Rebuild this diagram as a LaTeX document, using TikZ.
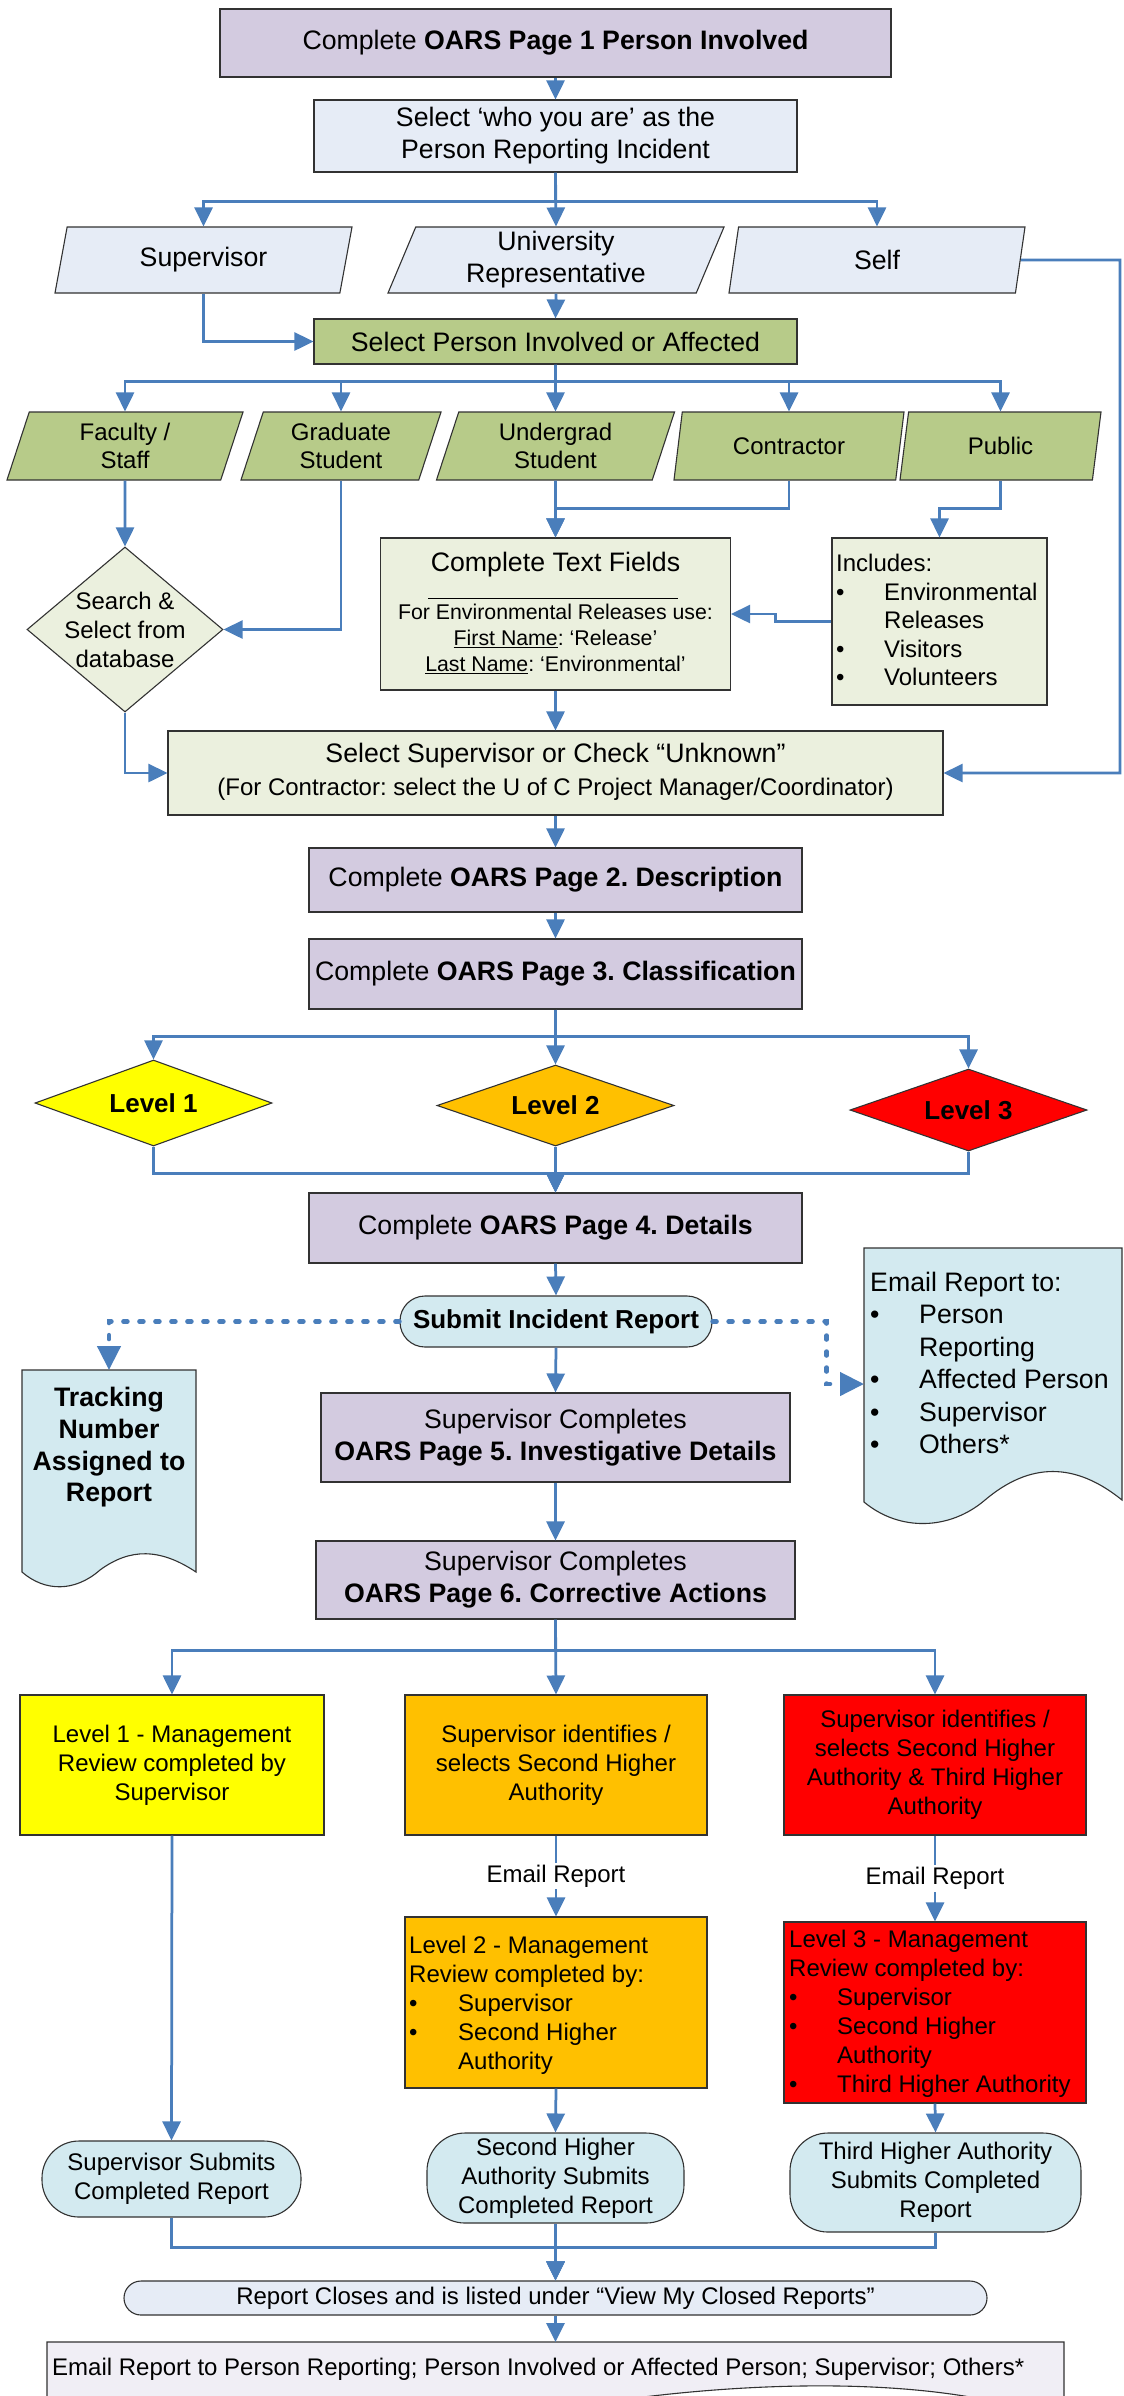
\documentclass[tikz,border=0pt]{standalone}
\usepackage{fontspec}
\setmainfont{Liberation Sans}
\usetikzlibrary{arrows.meta,shapes.geometric}
\definecolor{cblue}{RGB}{74,126,187}
\definecolor{bord}{RGB}{50,50,50}
\definecolor{purp}{RGB}{211,203,224}
\definecolor{lblue}{RGB}{230,236,246}
\definecolor{grn}{RGB}{183,203,137}
\definecolor{pgrn}{RGB}{235,240,222}
\definecolor{cyanc}{RGB}{211,234,240}
\definecolor{lav}{RGB}{240,238,245}
\definecolor{orng}{RGB}{255,192,0}
\definecolor{redc}{RGB}{255,0,0}
\definecolor{yelc}{RGB}{255,255,0}
\newcommand{\mybul}{\makebox[48pt][l]{•}}
\newcommand{\mybulb}{\makebox[49pt][l]{•}}
\frenchspacing
\begin{document}
\begin{tikzpicture}[x=1pt,y=-1pt,
  conn/.style={draw=cblue, line width=2.75pt, -{Triangle[length=19pt,width=18pt]}},
  cline/.style={draw=cblue, line width=2.75pt},
  dotc/.style={draw=cblue, line width=4.5pt, dash pattern=on 4pt off 12pt, line cap=round, -{Triangle[length=24pt,width=23pt]}},
  bx/.style={draw=bord, line width=1.1pt, inner sep=0pt, align=center},
  big/.style={font=\fontsize{26.7}{32}\selectfont},
  med/.style={font=\fontsize{24}{29}\selectfont},
  medp/.style={font=\fontsize{24}{28}\selectfont},
  para/.style={bx, trapezium, trapezium left angle=64, trapezium right angle=116, trapezium stretches body},
  txt/.style={inner sep=0pt, align=center},
  docsh/.style={draw=bord, line width=1.1pt}
]
\clip (0,0) rectangle (1124,2396);
\fill[white] (0,0) rectangle (1124,2396);

% ---------- top part ----------
\node[bx,big,fill=purp,minimum width=671pt,minimum height=68pt] (p1) at (555.5,43) {Complete \textbf{OARS Page 1 Person Involved}};
\node[bx,big,fill=lblue,minimum width=483pt,minimum height=72pt] (who) at (555.5,136) {Select ‘who you are’ as the\\Person Reporting Incident};
\node[para,big,fill=lblue,minimum width=297pt,minimum height=66pt] (sup) at (203.5,260) {Supervisor};
\node[para,big,fill=lblue,minimum width=336pt,minimum height=66pt] (univ) at (556,260) {University\\Representative};
\node[para,big,fill=lblue,minimum width=296pt,minimum height=66pt] (self) at (877,260) {Self};
\node[bx,big,fill=grn,minimum width=483pt,minimum height=45pt] (sel) at (555.5,341.5) {Select Person Involved or Affected};

\node[para,medp,fill=grn,minimum width=236pt,minimum height=68pt] (fac) at (125,446) {Faculty /\\Staff};
\node[para,medp,fill=grn,minimum width=200pt,minimum height=68pt] (grad) at (341,446) {Graduate\\Student};
\node[para,medp,fill=grn,minimum width=238pt,minimum height=68pt] (ug) at (555.5,446) {Undergrad\\Student};
\node[para,medp,fill=grn,minimum width=230pt,minimum height=68pt] (con) at (789,446) {Contractor};
\node[para,medp,fill=grn,minimum width=201pt,minimum height=68pt] (pub) at (1000.5,446) {Public};

\node[diamond,draw=bord,line width=1.1pt,fill=pgrn,inner sep=0pt,minimum width=196pt,minimum height=165pt] (search) at (125,629.5) {};
\node[txt,med] (searcht) at (search.center) {Search \&\\Select from\\database};

\node[bx,fill=pgrn,minimum width=350pt,minimum height=152pt] (tf) at (555.5,614) {};
\node[txt,big] (tft) at (555.5,565) {Complete Text Fields};
\draw[line width=0.8pt] (428,598) -- (678,598);
\node[txt,font=\fontsize{21.3}{26}\selectfont] (tfs) at (555.5,639) {For Environmental Releases use:\\\underline{First Name}: ‘Release’\\\underline{Last Name}: ‘Environmental’};

\node[bx,fill=pgrn,minimum width=215pt,minimum height=167pt] (inc) at (939.5,621.5) {};
\node[inner sep=0pt,anchor=north west,align=left,font=\fontsize{24}{28.5}\selectfont] (inct) at (836,554) {Includes:\\\mybul Environmental\\\hspace*{48pt}Releases\\\mybul Visitors\\\mybul Volunteers};

\node[bx,fill=pgrn,minimum width=775pt,minimum height=84pt] (supsel) at (555.5,773) {};
\node[txt,big] (ss1) at (555.5,756) {Select Supervisor or Check “Unknown”};
\node[txt,med] (ss2) at (555.5,789) {(For Contractor: select the U of C Project Manager/Coordinator)};

\node[bx,big,fill=purp,minimum width=493pt,minimum height=64pt] (p2) at (555.5,880) {Complete \textbf{OARS Page 2. Description}};
\node[bx,big,fill=purp,minimum width=493pt,minimum height=70pt] (p3) at (555.5,974) {Complete \textbf{OARS Page 3. Classification}};

\node[diamond,draw=bord,line width=1.1pt,fill=yelc,inner sep=0pt,minimum width=237pt,minimum height=86pt] (l1) at (153.5,1103) {};
\node[txt,font=\bfseries\fontsize{26}{31}\selectfont] (l1t) at (l1.center) {Level 1};
\node[diamond,draw=bord,line width=1.1pt,fill=orng,inner sep=0pt,minimum width=237pt,minimum height=81pt] (l2) at (555.5,1105.5) {};
\node[txt,font=\bfseries\fontsize{26}{31}\selectfont] (l2t) at (l2.center) {Level 2};
\node[diamond,draw=bord,line width=1.1pt,fill=redc,inner sep=0pt,minimum width=237pt,minimum height=82pt] (l3) at (968.5,1110) {};
\node[txt,font=\bfseries\fontsize{26}{31}\selectfont] (l3t) at (l3.center) {Level 3};

\node[bx,big,fill=purp,minimum width=493pt,minimum height=70pt] (p4) at (555.5,1228) {Complete \textbf{OARS Page 4. Details}};
\node[bx,fill=cyanc,rounded corners=25pt,minimum width=312pt,minimum height=51pt,font=\bfseries\fontsize{26}{31}\selectfont] (submit) at (556,1321.5) {Submit Incident Report};

% tracking document
\draw[docsh,fill=cyanc] (22,1370) -- (196,1370) -- (196,1572) .. controls (160,1548) and (130,1548) .. (100,1570) .. controls (75,1592) and (45,1592) .. (22,1572) -- cycle;
\coordinate (trktop) at (109,1370);
\node[txt,font=\bfseries\fontsize{26.7}{31.7}\selectfont] (trk) at (109,1447.5) {Tracking\\Number\\Assigned to\\Report};

% email document
\draw[docsh,fill=cyanc] (864,1248) -- (1122,1248) -- (1122,1500) .. controls (1075,1462) and (1030,1462) .. (985,1500) .. controls (950,1530) and (900,1532) .. (864,1502) -- cycle;
\coordinate (emailin) at (864,1384);
\node[inner sep=0pt,anchor=north west,align=left,font=\fontsize{26.7}{32.4}\selectfont] (emt) at (870,1272) {Email Report to:\\\mybulb Person\\\hspace*{49pt}Reporting\\\mybulb Affected Person\\\mybulb Supervisor\\\mybulb Others*};

\node[bx,big,fill=purp,minimum width=469pt,minimum height=89pt] (p5) at (555.5,1437.5) {Supervisor Completes\\\textbf{OARS Page 5. Investigative Details}};
\node[bx,big,fill=purp,minimum width=479pt,minimum height=78pt] (p6) at (555.5,1580) {Supervisor Completes\\\textbf{OARS Page 6. Corrective Actions}};

% ---------- level boxes ----------
\node[bx,med,fill=yelc,minimum width=304pt,minimum height=140pt] (yel) at (172,1765) {Level 1 - Management\\Review completed by\\Supervisor};
\node[bx,med,fill=orng,minimum width=302pt,minimum height=140pt] (ora) at (556,1765) {Supervisor identifies /\\selects Second Higher\\Authority};
\node[bx,med,fill=redc,minimum width=302pt,minimum height=140pt] (red) at (935,1765) {Supervisor identifies /\\selects Second Higher\\Authority \& Third Higher\\Authority};

\node[bx,fill=orng,minimum width=302pt,minimum height=171pt] (l2b) at (556,2002.5) {};
\node[inner sep=0pt,anchor=north west,align=left,med] (l2bt) at (409,1936) {Level 2 - Management\\Review completed by:\\\mybulb Supervisor\\\mybulb Second Higher\\\hspace*{49pt}Authority};
\node[bx,fill=redc,minimum width=302pt,minimum height=181pt] (l3b) at (935,2012.5) {};
\node[inner sep=0pt,anchor=north west,align=left,med] (l3bt) at (789,1930) {Level 3 - Management\\Review completed by:\\\mybul Supervisor\\\mybul Second Higher\\\hspace*{48pt}Authority\\\mybul Third Higher Authority};

\node[bx,med,fill=cyanc,rounded corners=37pt,minimum width=259pt,minimum height=76pt] (supsub) at (171.5,2179) {Supervisor Submits\\Completed Report};
\node[bx,med,fill=cyanc,rounded corners=38pt,minimum width=257pt,minimum height=90pt] (sechi) at (555.5,2178) {Second Higher\\Authority Submits\\Completed Report};
\node[bx,med,fill=cyanc,rounded corners=38pt,minimum width=291pt,minimum height=99pt] (third) at (935.5,2182.5) {Third Higher Authority\\Submits Completed\\Report};

\node[bx,med,fill=lblue,rounded corners=17pt,minimum width=863pt,minimum height=34pt] (closes) at (555.5,2298) {Report Closes and is listed under “View My Closed Reports”};

% bottom document
\draw[docsh,fill=lav] (47,2342) -- (1064,2342) -- (1064,2425) .. controls (960,2372) and (700,2372) .. (460,2430) .. controls (320,2460) and (150,2460) .. (47,2440) -- cycle;
\coordinate (botin) at (555.5,2342);
\node[inner sep=0pt,anchor=north west,align=left,med] (bott) at (52,2358) {Email Report to Person Reporting; Person Involved or Affected Person; Supervisor; Others*};

% ---------- connectors ----------
\draw[conn] (p1.south) -- (who.north);
\draw[conn] (who.south) -- ++(0,29) -| (sup.north);
\draw[conn] (who.south) -- (univ.north);
\draw[conn] (who.south) -- ++(0,29) -| (self.north);
\draw[conn] (sup.south) |- (sel.west);
\draw[conn] (univ.south) -- (sel.north);
\draw[conn] (self.east) -- (1120,260) |- (supsel.east);

\draw[conn] (sel.south) -- ++(0,17) -| (fac.north);
\draw[conn] (sel.south) -- ++(0,17) -| (grad.north);
\draw[conn] (sel.south) -- (ug.north);
\draw[conn] (sel.south) -- ++(0,17) -| (con.north);
\draw[conn] (sel.south) -- ++(0,17) -| (pub.north);

\draw[conn] (fac.south) -- (search.north);
\draw[conn] (grad.south) |- (search.east);
\draw[conn] (ug.south) -- (tf.north);
\draw[conn] (con.south) -- ++(0,28) -| (tf.north);
\draw[conn] (pub.south) -- ++(0,28) -| (inc.north);
\draw[conn] (inc.west) -- ++(-56,0) |- (tf.east);
\draw[conn] (search.south) |- (supsel.west);
\draw[conn] (tf.south) -- (supsel.north);

\draw[conn] (supsel.south) -- (p2.north);
\draw[conn] (p2.south) -- (p3.north);
\draw[conn] (p3.south) -- ++(0,27) -| (l1.north);
\draw[conn] (p3.south) -- (l2.north);
\draw[conn] (p3.south) -- ++(0,27) -| (l3.north);
\draw[conn] (l1.south) -- ++(0,27) -| (p4.north);
\draw[conn] (l2.south) -- (p4.north);
\draw[conn] (l3.south) -- ++(0,22) -| (p4.north);

\draw[conn] (p4.south) -- (submit.north);
\draw[dotc] (submit.west) -| (trktop);
\draw[dotc] (submit.east) -- ++(114,0) |- (emailin);
\draw[conn] (submit.south) -- (p5.north);
\draw[conn] (p5.south) -- (p6.north);

\draw[conn] (p6.south) -- ++(0,31) -| (yel.north);
\draw[conn] (p6.south) -- (ora.north);
\draw[conn] (p6.south) -- ++(0,31) -| (red.north);

\draw[conn] (yel.south) -- (supsub.north);
\draw[conn] (ora.south) -- node[fill=white,inner sep=2pt,med] (em2) {Email Report} (l2b.north);
\draw[conn] (red.south) -- node[fill=white,inner sep=2pt,med] (em3) {Email Report} (l3b.north);
\draw[conn] (l2b.south) -- (sechi.north);
\draw[conn] (l3b.south) -- (third.north);

\draw[conn] (supsub.south) -- ++(0,30) -| (closes.north);
\draw[conn] (sechi.south) -- (closes.north);
\draw[conn] (third.south) -- ++(0,15) -| (closes.north);
\draw[conn] (closes.south) -- (botin);
\end{tikzpicture}
\end{document}
